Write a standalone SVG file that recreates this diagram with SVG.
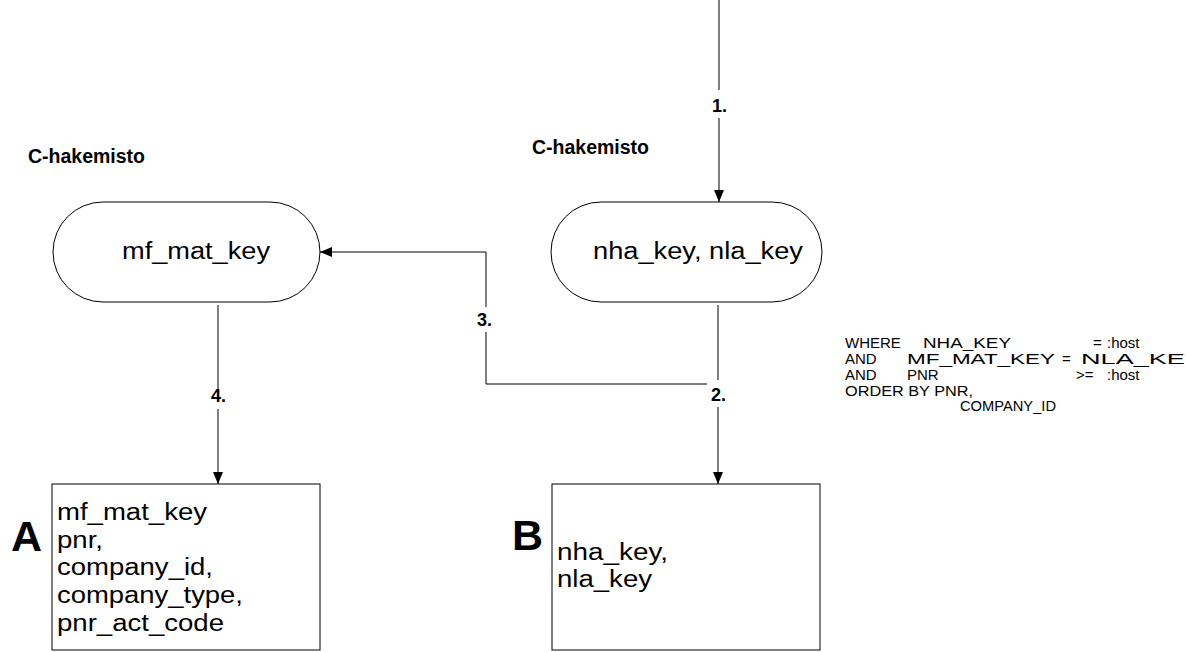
<svg xmlns="http://www.w3.org/2000/svg" width="1186" height="652" viewBox="0 0 1186 652">
<defs>
<marker id="arr" viewBox="0 0 12 10" refX="12" refY="5" markerWidth="12" markerHeight="10" markerUnits="userSpaceOnUse" orient="auto">
<path d="M0,0 L12,5 L0,10 Z" fill="#000"/>
</marker>
</defs>
<style>
.shape{fill:#fff;stroke:#000;stroke-width:1}
.ln{fill:none;stroke:#000;stroke-width:1}
.t{font-family:"Liberation Sans",Arial,sans-serif;fill:#000}
.big{font-size:23px}
.hdr{font-size:19.5px;font-weight:bold}
.lbl{font-size:18px;font-weight:bold}
.sql{font-size:15px}
.let{font-size:43px;font-weight:bold}
</style>
<rect width="1186" height="652" fill="#fff"/>
<g id="connectors">
<line class="ln" x1="719" y1="0" x2="719" y2="90"/>
<line class="ln" x1="719" y1="118" x2="719" y2="202" marker-end="url(#arr)"/>
<text class="t lbl" x="712" y="112">1.</text>
<line class="ln" x1="718" y1="305" x2="718" y2="380"/>
<line class="ln" x1="718" y1="407" x2="718" y2="484" marker-end="url(#arr)"/>
<text class="t lbl" x="711" y="401">2.</text>
<polyline class="ln" points="707,384 486,384 486,332"/>
<polyline class="ln" points="486,307 486,252 320,252" marker-end="url(#arr)"/>
<text class="t lbl" x="477" y="326">3.</text>
<line class="ln" x1="218" y1="305" x2="218" y2="389"/>
<line class="ln" x1="218" y1="409" x2="218" y2="484" marker-end="url(#arr)"/>
<text class="t lbl" x="211" y="402">4.</text>
</g>
<g id="label-c1"><text class="t hdr" x="28" y="163">C-hakemisto</text></g>
<g id="label-c2"><text class="t hdr" x="532" y="154">C-hakemisto</text></g>
<g id="node-mf">
<rect class="shape" x="53" y="202" width="267" height="100" rx="50" ry="50"/>
<text class="t big" x="122" y="259" textLength="148" lengthAdjust="spacingAndGlyphs">mf_mat_key</text>
</g>
<g id="node-nha">
<rect class="shape" x="551" y="202" width="271" height="100" rx="50" ry="50"/>
<text class="t big" x="593" y="259" textLength="210" lengthAdjust="spacingAndGlyphs">nha_key, nla_key</text>
</g>
<g id="sql">
<text class="t sql" x="845" y="348">WHERE</text>
<text class="t sql" x="923" y="348" textLength="88" lengthAdjust="spacingAndGlyphs">NHA_KEY</text>
<text class="t sql" x="1093" y="348">=</text>
<text class="t sql" x="1107" y="348">:host</text>
<text class="t sql" x="845" y="364">AND</text>
<text class="t sql" x="907" y="364" textLength="148" lengthAdjust="spacingAndGlyphs">MF_MAT_KEY</text>
<text class="t sql" x="1062" y="364">=</text>
<text class="t sql" x="1081" y="364" textLength="122" lengthAdjust="spacingAndGlyphs">NLA_KEY</text>
<text class="t sql" x="845" y="380">AND</text>
<text class="t sql" x="907" y="380">PNR</text>
<text class="t sql" x="1076" y="380">&gt;=</text>
<text class="t sql" x="1107" y="380">:host</text>
<text class="t sql" x="845" y="396" textLength="128" lengthAdjust="spacingAndGlyphs">ORDER BY PNR,</text>
<text class="t sql" x="960" y="411" textLength="96" lengthAdjust="spacingAndGlyphs">COMPANY_ID</text>
</g>
<g id="node-A">
<rect class="shape" x="52" y="484" width="268" height="166"/>
<text class="t let" x="11" y="551">A</text>
<text class="t big" x="57" y="520" textLength="150" lengthAdjust="spacingAndGlyphs">mf_mat_key</text>
<text class="t big" x="57" y="548" textLength="46" lengthAdjust="spacingAndGlyphs">pnr,</text>
<text class="t big" x="57" y="575" textLength="156" lengthAdjust="spacingAndGlyphs">company_id,</text>
<text class="t big" x="57" y="603" textLength="186" lengthAdjust="spacingAndGlyphs">company_type,</text>
<text class="t big" x="57" y="631" textLength="167" lengthAdjust="spacingAndGlyphs">pnr_act_code</text>
</g>
<g id="node-B">
<rect class="shape" x="552" y="484" width="268" height="166"/>
<text class="t let" x="512" y="550">B</text>
<text class="t big" x="557" y="560" textLength="111" lengthAdjust="spacingAndGlyphs">nha_key,</text>
<text class="t big" x="557" y="587" textLength="95" lengthAdjust="spacingAndGlyphs">nla_key</text>
</g>
</svg>
